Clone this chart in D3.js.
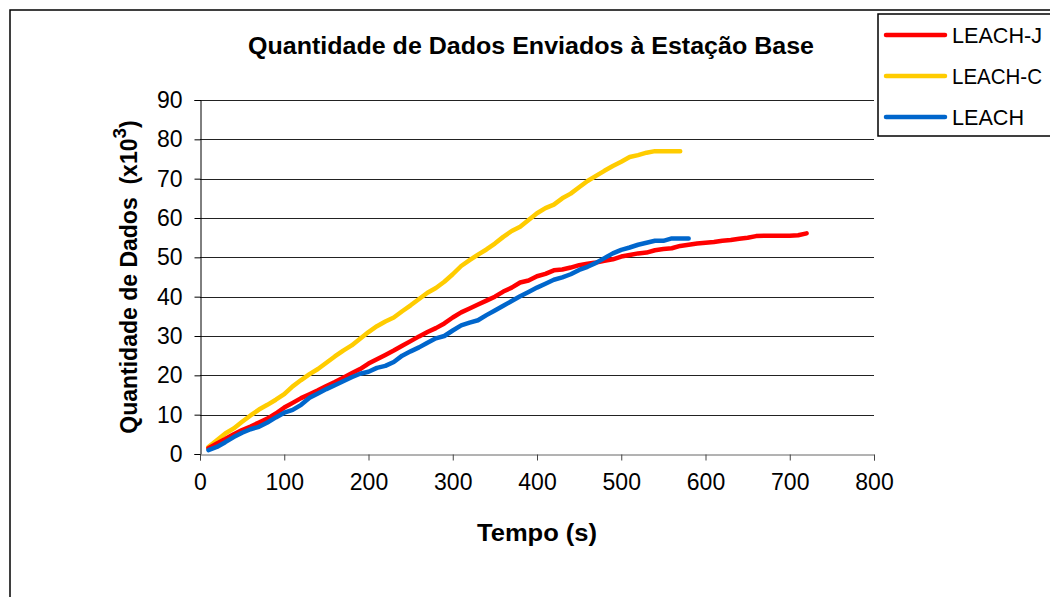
<!DOCTYPE html>
<html><head><meta charset="utf-8">
<script src="https://cdn.jsdelivr.net/npm/d3@7"></script>
<style>
html,body{margin:0;padding:0;background:#fff;}
svg{display:block;font-family:"Liberation Sans",Arial,sans-serif;}
</style></head>
<body>
<svg id="chart" width="1050" height="597"></svg>
<script>
const title = "Quantidade de Dados Enviados à Estação Base";
const xLabel = "Tempo (s)";
const yLabelMain = "Quantidade de Dados\u00a0\u00a0(x10";
const yLabelSup = "3";
const xTicks = [0,100,200,300,400,500,600,700,800];
const yTicks = [0,10,20,30,40,50,60,70,80,90];
const seriesNames = ["LEACH-J","LEACH-C","LEACH"];
const seriesColors = ["#FF0000","#FFCC00","#0066CC"];

const tJ = [10,20,30,40,50,60,70,80,90,100,110,120,130,140,150,160,170,180,190,200,210,220,230,240,250,260,270,280,290,300,310,320,330,340,350,360,370,380,390,400,410,420,430,440,450,460,470,480,490,500,510,520,530,540,550,560,570,580,590,600,610,620,630,640,650,660,670,680,690,700,710,720];
const vJ = [1.5,2.7,3.8,5,6.1,7,8,9,10.3,11.8,13,14.2,15.2,16.2,17.3,18.3,19.4,20.5,21.6,23,24.1,25.2,26.3,27.5,28.7,29.9,31,32,33.2,34.7,36,37,38,39,40,41.3,42.3,43.6,44.1,45.2,45.8,46.7,46.9,47.4,48,48.4,48.7,49.1,49.5,50.2,50.6,51,51.2,51.8,52.1,52.3,52.9,53.2,53.5,53.7,53.9,54.2,54.4,54.7,55,55.4,55.5,55.5,55.5,55.5,55.6,56.1];

const tC = [10,20,30,40,50,60,70,80,90,100,110,120,130,140,150,160,170,180,190,200,210,220,230,240,250,260,270,280,290,300,310,320,330,340,350,360,370,380,390,400,410,420,430,440,450,460,470,480,490,500,510,520,530,540,550,560,570];
const vC = [1.8,3.5,5.2,6.5,8.2,9.8,11.3,12.5,13.8,15.2,17.2,18.8,20.3,21.6,23.2,24.8,26.3,27.6,29.3,31,32.5,33.7,34.7,36.3,37.8,39.4,41,42.2,43.8,45.7,47.8,49.3,50.7,52,53.5,55.2,56.7,57.8,59.5,61.2,62.5,63.4,65,66.2,67.8,69.4,70.7,72,73.2,74.3,75.5,76,76.6,77,77,77,77];

const tL = [10,20,30,40,50,60,70,80,90,100,110,120,130,140,150,160,170,180,190,200,210,220,230,240,250,260,270,280,290,300,310,320,330,340,350,360,370,380,390,400,410,420,430,440,450,460,470,480,490,500,510,520,530,540,550,560,570,580];
const vL = [1,1.8,3,4.3,5.4,6.3,6.9,8,9.3,10.5,11.2,12.5,14.3,15.4,16.5,17.5,18.5,19.5,20.4,20.9,21.9,22.4,23.4,25,26.1,27.1,28.3,29.4,30,31.4,32.7,33.4,34,35.3,36.5,37.7,38.9,40.1,41.2,42.3,43.3,44.3,44.9,45.7,46.8,47.6,48.6,49.8,51,51.9,52.5,53.2,53.7,54.2,54.2,54.8,54.8,54.8];

const svg = d3.select("#chart");
const FS = 23;

// outer frame
svg.append("rect").attr("x",10).attr("y",10).attr("width",1100).attr("height",650)
  .attr("fill","#fff").attr("stroke","#000").attr("stroke-width",1.5);

const x = d3.scaleLinear().domain([0,800]).range([200,874]);
const y = d3.scaleLinear().domain([0,90]).range([454,100]);

// gridlines
svg.append("g").selectAll("line").data(yTicks.filter(d=>d>0)).join("line")
  .attr("x1",x(0)).attr("x2",x(800)).attr("y1",d=>Math.round(y(d))+0.5).attr("y2",d=>Math.round(y(d))+0.5)
  .attr("stroke","#222").attr("stroke-width",1);

// y axis
const yAxis = d3.axisLeft(y).tickValues(yTicks).tickSize(6).tickPadding(12).tickFormat(d3.format("d"));
const gy = svg.append("g").attr("transform",`translate(${x(0)+0.5},0)`).call(yAxis);
gy.select(".domain").attr("stroke","#000");
gy.selectAll(".tick line").attr("stroke","#000");
gy.selectAll("text").attr("font-size",FS).attr("fill","#000").attr("font-family","Liberation Sans, Arial, sans-serif");

// x axis
const xAxis = d3.axisBottom(x).tickValues(xTicks).tickSize(6).tickPadding(13).tickFormat(d3.format("d"));
const gx = svg.append("g").attr("transform",`translate(0,${y(0)+0.5})`).call(xAxis);
gx.select(".domain").attr("stroke","#666");
gx.selectAll(".tick line").attr("stroke","#444");
gx.selectAll("text").attr("font-size",FS).attr("fill","#000").attr("font-family","Liberation Sans, Arial, sans-serif");

// lines
const series = [
  {name:seriesNames[0], color:seriesColors[0], t:tJ, v:vJ},
  {name:seriesNames[1], color:seriesColors[1], t:tC, v:vC},
  {name:seriesNames[2], color:seriesColors[2], t:tL, v:vL}
];
const line = d3.line().x(d=>x(d[0])).y(d=>y(d[1]));
[series[1], series[0], series[2]].forEach(s=>{
  svg.append("path").datum(s.t.map((t,i)=>[t,s.v[i]]))
    .attr("d",line).attr("fill","none").attr("stroke",s.color)
    .attr("stroke-width",4.5).attr("stroke-linecap","round").attr("stroke-linejoin","round");
});

// title
svg.append("text").attr("x",531).attr("y",54).attr("text-anchor","middle")
  .attr("font-size",23).attr("font-weight","bold").attr("textLength",566).attr("lengthAdjust","spacingAndGlyphs")
  .text(title);

// x label
svg.append("text").attr("x",537).attr("y",541).attr("text-anchor","middle")
  .attr("font-size",23).attr("font-weight","bold").attr("textLength",120).attr("lengthAdjust","spacingAndGlyphs")
  .text(xLabel);

// y label
const yl = svg.append("text").attr("transform","translate(137,277) rotate(-90)").attr("text-anchor","middle")
  .attr("font-size",23).attr("font-weight","bold");
yl.append("tspan").text(yLabelMain);
yl.append("tspan").attr("dy",-11).attr("font-size",19).text(yLabelSup);
yl.append("tspan").attr("dy",11).text(")");

// legend
svg.append("rect").attr("x",878).attr("y",14).attr("width",200).attr("height",122)
  .attr("fill","#fff").attr("stroke","#000").attr("stroke-width",1.5);
const legY = [35,76,117];
const legW = [90,90,72];
series.forEach((s,i)=>{
  svg.append("line").attr("x1",886).attr("x2",945).attr("y1",legY[i]).attr("y2",legY[i])
    .attr("stroke",s.color).attr("stroke-width",4.5).attr("stroke-linecap","round");
  svg.append("text").attr("x",952).attr("y",legY[i]+8).attr("font-size",22)
    .attr("textLength",legW[i]).attr("lengthAdjust","spacingAndGlyphs").text(s.name);
});
</script>
</body></html>
